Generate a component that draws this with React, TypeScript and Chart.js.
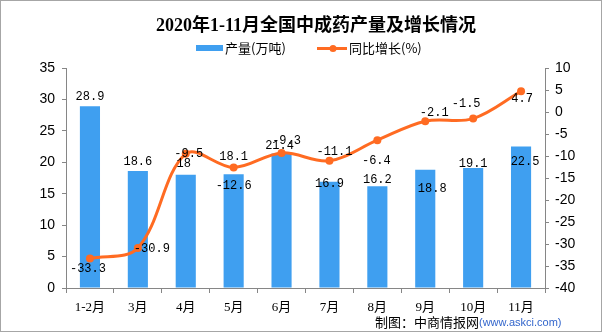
import React, { useEffect, useRef } from 'react';
import { Chart, registerables } from 'chart.js';

Chart.register(...registerables);

const categories = ['1-2月', '3月', '4月', '5月', '6月', '7月', '8月', '9月', '10月', '11月'];
const output = [28.9, 18.6, 18, 18.1, 21.4, 16.9, 16.2, 18.8, 19.1, 22.5];
const growth = [-33.3, -30.9, -9.5, -12.6, -9.3, -11.1, -6.4, -2.1, -1.5, 4.7];

const title = '2020年1-11月全国中成药产量及增长情况';
const barName = '产量(万吨)';
const lineName = '同比增长(%)';
const sourceMain = '制图：中商情报网';
const sourceUrl = '(www.askci.com)';

// label offsets relative to each mark (style only)
const barLabelOffsets: [number, number][] = [
  [0, -10], [0, -9.5], [-2, -11], [0, -17.5], [-2, -7.5],
  [0, 2], [0, -6], [7, 18.5], [0, -4], [4, 15],
];
const lineLabelOffsets: [number, number][] = [
  [-2, 10], [14, 1], [3, 0], [0, 18.6], [5, -12],
  [5, -9], [-1, 21], [9, -8], [-7, -15], [1, 8],
];

const BAR_COLOR = '#3F9FF0';
const LINE_COLOR = '#FF6B22';
const AXIS_COLOR = '#868686';
const CJK = '"Noto Sans CJK SC"';

const decorPlugin = {
  id: 'decor',
  afterDatasetsDraw(chart: any) {
    const ctx = chart.ctx;
    ctx.save();
    // data labels
    ctx.fillStyle = '#000';
    ctx.font = '12px "Liberation Mono", monospace';
    ctx.textAlign = 'center';
    ctx.textBaseline = 'middle';
    const barMeta = chart.getDatasetMeta(0);
    barMeta.data.forEach((el: any, i: number) => {
      const [dx, dy] = barLabelOffsets[i];
      ctx.fillText(String(output[i]), el.x + dx, el.y + dy);
    });
    const lineMeta = chart.getDatasetMeta(1);
    lineMeta.data.forEach((el: any, i: number) => {
      const [dx, dy] = lineLabelOffsets[i];
      ctx.fillText(String(growth[i]), el.x + dx, el.y + dy);
    });
    ctx.restore();
  },
  afterDraw(chart: any) {
    const ctx = chart.ctx;
    ctx.save();
    // title
    ctx.fillStyle = '#000';
    ctx.font = `bold 18px "Liberation Serif", ${CJK}, serif`;
    ctx.textAlign = 'center';
    ctx.textBaseline = 'middle';
    ctx.fillText(title, 316, 26);
    // legend
    ctx.textAlign = 'left';
    ctx.font = `13px ${CJK}, sans-serif`;
    ctx.fillStyle = BAR_COLOR;
    ctx.fillRect(196, 45, 27, 6);
    ctx.fillStyle = '#000';
    ctx.fillText(barName, 225, 48.5);
    ctx.strokeStyle = LINE_COLOR;
    ctx.lineWidth = 3;
    ctx.beginPath();
    ctx.moveTo(317, 48.5);
    ctx.lineTo(347, 48.5);
    ctx.stroke();
    ctx.fillStyle = LINE_COLOR;
    ctx.beginPath();
    ctx.arc(333, 48.5, 3.5, 0, Math.PI * 2);
    ctx.fill();
    ctx.fillStyle = '#000';
    ctx.fillText(lineName, 349, 48.5);
    // source
    ctx.font = `13px ${CJK}, sans-serif`;
    ctx.fillText(sourceMain, 375, 322);
    const w = ctx.measureText(sourceMain).width;
    ctx.fillStyle = '#3366CC';
    ctx.font = '11px "Liberation Sans", sans-serif';
    ctx.fillText(sourceUrl, 375 + w, 323);
    // border
    ctx.strokeStyle = '#A6A6A6';
    ctx.lineWidth = 1;
    ctx.strokeRect(0.5, 0.5, 601, 331);
    ctx.restore();
  },
};

export default function App() {
  const ref = useRef<HTMLCanvasElement>(null);
  useEffect(() => {
    if (!ref.current) return;
    const chart = new Chart(ref.current, {
      type: 'bar',
      data: {
        labels: categories,
        datasets: [
          {
            type: 'bar',
            label: barName,
            data: output,
            backgroundColor: BAR_COLOR,
            barPercentage: 0.42,
            categoryPercentage: 1,
            yAxisID: 'y',
            order: 2,
          },
          {
            type: 'line',
            label: lineName,
            data: growth,
            borderColor: LINE_COLOR,
            backgroundColor: LINE_COLOR,
            borderWidth: 3,
            pointRadius: 4,
            pointBorderWidth: 0,
            tension: 0.35,
            yAxisID: 'y1',
            order: 1,
          } as any,
        ],
      },
      options: {
        responsive: false,
        animation: false,
        layout: { padding: { top: 68, left: 0, right: 0, bottom: 0 } },
        plugins: {
          legend: { display: false },
          title: { display: false },
          tooltip: { enabled: false },
        },
        scales: {
          x: {
            afterFit: (s: any) => { s.height = 46; },
            grid: { display: true, drawOnChartArea: false, drawTicks: true, tickLength: 5, color: AXIS_COLOR, offset: true },
            border: { display: true, color: AXIS_COLOR },
            ticks: {
              color: '#000',
              padding: 7,
              maxRotation: 0,
              autoSkip: false,
              font: { family: `"Liberation Serif", ${CJK}, serif`, size: 13 },
            },
          },
          y: {
            position: 'left',
            min: 0,
            max: 35,
            afterFit: (s: any) => { s.width = 66; },
            grid: { display: true, drawOnChartArea: false, drawTicks: true, tickLength: 4, color: AXIS_COLOR },
            border: { display: true, color: AXIS_COLOR },
            ticks: {
              stepSize: 5,
              color: '#000',
              padding: 7,
              font: { family: '"Liberation Sans", sans-serif', size: 14 },
            },
          },
          y1: {
            position: 'right',
            min: -40,
            max: 10,
            afterFit: (s: any) => { s.width = 57; },
            grid: { display: true, drawOnChartArea: false, drawTicks: true, tickLength: 4, color: AXIS_COLOR },
            border: { display: true, color: AXIS_COLOR },
            ticks: {
              stepSize: 5,
              color: '#000',
              padding: 6,
              font: { family: '"Liberation Sans", sans-serif', size: 14 },
            },
          },
        },
      },
      plugins: [decorPlugin],
    });
    return () => chart.destroy();
  }, []);
  return (
    <div style={{ position: 'absolute', left: 0, top: 0, width: 602, height: 334, background: '#fff' }}>
      <canvas ref={ref} width={602} height={334} style={{ display: 'block' }} />
    </div>
  );
}
